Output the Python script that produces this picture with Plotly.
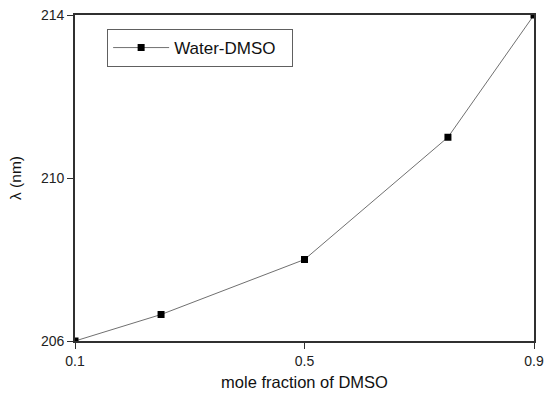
import plotly.graph_objects as go

# Absorption wavelength versus DMSO mole fraction
mole_fraction = [0.1, 0.25, 0.5, 0.75, 0.9]
wavelength_nm = [206.0, 206.65, 208.0, 211.0, 214.0]
series_name = "Water-DMSO"
x_ticks = [0.1, 0.5, 0.9]
y_ticks = [206, 210, 214]

FONT = "Liberation Sans, Arial"

fig = go.Figure()
fig.add_trace(go.Scatter(
    x=mole_fraction, y=wavelength_nm, name=series_name,
    mode="lines+markers",
    line=dict(color="#707070", width=1),
    marker=dict(symbol="square", size=7, color="black"),
    cliponaxis=True,
))

axis_common = dict(
    showgrid=False, zeroline=False, showline=True, mirror=True,
    linecolor="#303030", linewidth=1.6,
    ticks="outside", ticklen=6, tickwidth=1, tickcolor="#303030",
    tickfont=dict(family=FONT, size=14, color="#222"),
    automargin=False,
)

fig.update_layout(
    width=554, height=393,
    margin=dict(l=75, r=20, t=15, b=52),
    plot_bgcolor="white", paper_bgcolor="white",
    showlegend=True,
    legend=dict(
        x=0.07, y=0.957, xanchor="left", yanchor="top",
        orientation="h", itemwidth=56, entrywidth=113, entrywidthmode="pixels",
        bordercolor="#606060", borderwidth=1, bgcolor="white",
        font=dict(family=FONT, size=17, color="#111"),
    ),
    xaxis=dict(range=[0.1, 0.9], tickvals=x_ticks, ticktext=["0.1", "0.5", "0.9"],
               title=dict(text="mole fraction of DMSO", standoff=9,
                          font=dict(family=FONT, size=16.5, color="#111")),
               **axis_common),
    yaxis=dict(range=[206, 214], tickvals=y_ticks,
               title=dict(text="λ (nm)", standoff=16,
                          font=dict(family=FONT, size=15.5, color="#111")),
               **axis_common),
)

fig.write_html("out.html")
